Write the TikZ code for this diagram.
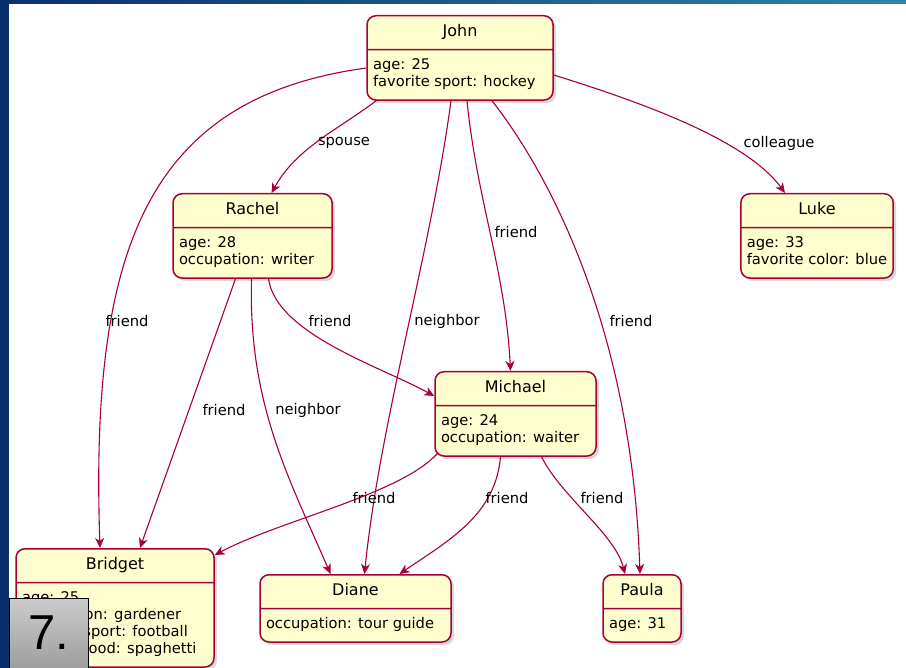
\documentclass[tikz,border=0pt]{standalone}
\usepackage{fontspec}
\setmainfont{DejaVu Sans}
\newfontfamily\numfont{Liberation Sans}
\usetikzlibrary{positioning,arrows.meta,shapes.multipart,shadows}
\definecolor{umlred}{HTML}{A80036}
\definecolor{umlfill}{HTML}{FEFECE}
\definecolor{bgdark}{HTML}{0B2F6B}
\definecolor{bgteal}{HTML}{2E84A2}
\newcommand{\objfont}{\fontsize{14.7}{17}\selectfont}
\newcommand{\ttl}[1]{\fontsize{16}{17}\selectfont\strut#1}
\tikzset{
  obj/.style={rectangle split,rectangle split parts=2,draw=umlred,fill=umlfill,
    line width=1.5pt,rounded corners=9pt,inner xsep=6pt,inner ysep=7.5pt,
    align=left,rectangle split part align={center,left},anchor=north,font=\objfont,
    drop shadow={shadow xshift=3pt,shadow yshift=-3pt,opacity=0.3}},
  rel/.style={draw=umlred,line width=1.1pt,-{Stealth[length=10pt,width=9pt,inset=3pt]}},
  lbl/.style={font=\objfont,inner sep=1pt},
  numbox/.style={draw=black,line width=0.8pt,top color=black!20,bottom color=black!38,
    minimum width=79pt,minimum height=70pt,inner sep=0pt,font=\numfont\fontsize{49}{50}\selectfont},
}

\begin{document}
\begin{tikzpicture}[x=1pt,y=-1pt]
  \useasboundingbox (0,0) rectangle (906,668);
  % slide background
  \shade[left color=bgdark,right color=bgteal] (0,0) rectangle (906,668);
  \fill[white] (9,4) rectangle (906,668);

  % objects
  \node[obj,minimum width=186pt] (john) at (460,15)
    {\ttl{John}\nodepart{two}\strut age: 25\\\strut favorite sport: hockey};
  \node[obj,minimum width=159pt] (rachel) at (252.5,193)
    {\ttl{Rachel}\nodepart{two}\strut age: 28\\\strut occupation: writer};
  \node[obj,minimum width=148pt] (luke) at (817,193)
    {\ttl{Luke}\nodepart{two}\strut age: 33\\\strut favorite color: blue};
  \node[obj,minimum width=161pt] (michael) at (515.5,371)
    {\ttl{Michael}\nodepart{two}\strut age: 24\\\strut occupation: waiter};
  \node[obj,minimum width=198pt] (bridget) at (115,548)
    {\ttl{Bridget}\nodepart{two}\strut age: 25\\\strut occupation: gardener\\
     \strut favorite sport: football\\\strut favorite food: spaghetti};
  \node[obj,minimum width=191pt] (diane) at (355.5,574)
    {\ttl{Diane}\nodepart{two}\strut occupation: tour guide};
  \node[obj,minimum width=78pt] (paula) at (642,574)
    {\ttl{Paula}\nodepart{two}\strut age: 31};

  % relations from John
  \draw[rel] ([xshift=10pt]john.south west) .. controls +(-40,30) and +(25,-45) .. ([xshift=19pt]rachel.north);
  \draw[rel] ([yshift=-60pt]john.north east) .. controls +(80,25) and +(-40,-55) .. ([xshift=-32pt]luke.north);
  \draw[rel] ([yshift=-53pt]john.north west) .. controls +(-220,30) and +(-10,-298) .. ([xshift=-15pt]bridget.north);
  \draw[rel] ([xshift=-9pt]john.south) .. controls +(-20,150) and +(15,-150) .. ([xshift=9pt]diane.north);
  \draw[rel] ([xshift=7pt]john.south) .. controls +(10,100) and +(-5,-100) .. ([xshift=-5pt]michael.north);
  \draw[rel] ([xshift=32pt]john.south) .. controls +(58,74) and +(-8,-244) .. ([xshift=-2pt]paula.north);
  % relations from Rachel
  \draw[rel] ([xshift=-17pt]rachel.south) -- ([xshift=25pt]bridget.north);
  \draw[rel] ([xshift=-1pt]rachel.south) .. controls +(-3.5,126) and +(-40.5,-94) .. ([xshift=-25pt]diane.north);
  \draw[rel] ([xshift=16pt]rachel.south) .. controls +(8,55) and +(-55,-30) .. ([yshift=-25pt]michael.north west);
  % relations from Michael
  \draw[rel] ([xshift=3pt,yshift=3pt]michael.south west) .. controls +(-38,41) and +(66,-35) .. ([yshift=-7pt]bridget.north east);
  \draw[rel] ([xshift=-15pt]michael.south) .. controls +(-5,58) and +(50,-34) .. ([xshift=44pt]diane.north);
  \draw[rel] ([xshift=26pt]michael.south) .. controls +(20,40) and +(-10,-40) .. ([xshift=-17pt]paula.north);

  % labels
  \node[lbl] (lspouse) at (344,143) {spouse};
  \node[lbl] (lcolleague) at (779,143) {colleague};
  \node[lbl] (ljb) at (127,321) {friend};
  \node[lbl] (ljd) at (447,321) {neighbor};
  \node[lbl] (ljm) at (516,232) {friend};
  \node[lbl] (ljp) at (631,321) {friend};
  \node[lbl] (lrb) at (224,410) {friend};
  \node[lbl] (lrd) at (308,410) {neighbor};
  \node[lbl] (lrm) at (330,321) {friend};
  \node[lbl] (lmb) at (374,498) {friend};
  \node[lbl] (lmd) at (507,498) {friend};
  \node[lbl] (lmp) at (602,498) {friend};

  % slide number
  \node[numbox] (num) at (48.5,633) {7.};
\end{tikzpicture}
\end{document}
